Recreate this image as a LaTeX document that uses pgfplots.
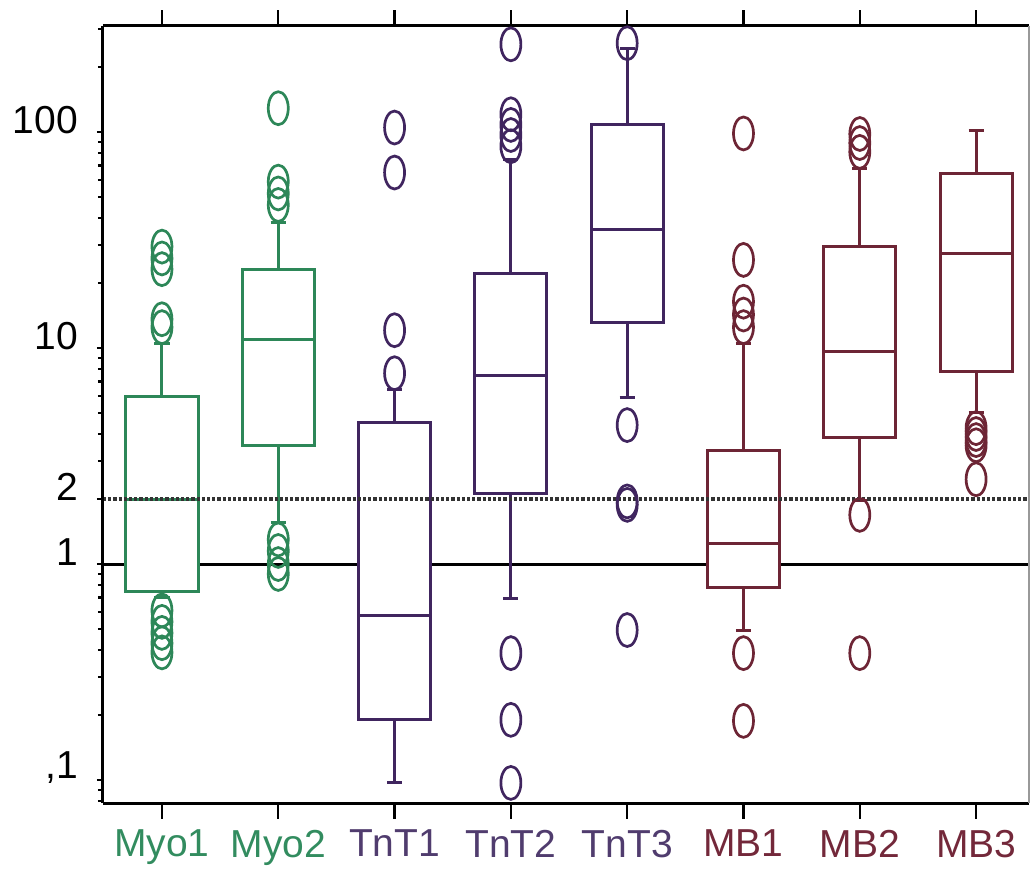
\documentclass[border=0pt]{standalone}
\usepackage{pgfplots}
\pgfplotsset{compat=1.18}
\usepackage{fontspec}
\setmainfont{Liberation Sans}
\definecolor{cg}{RGB}{45,135,88}
\definecolor{cp}{RGB}{64,37,95}
\definecolor{cq}{RGB}{109,37,53}
\definecolor{lg}{RGB}{50,140,95}
\definecolor{lp}{RGB}{80,60,110}
\definecolor{lr}{RGB}{115,40,58}
% #1 colour, #2 position, #3 lower whisker, #4 lower quartile, #5 median, #6 upper quartile, #7 upper whisker
\newcommand{\bp}[7]{%
  \pgfmathsetmacro\bxl{#2-0.31}\pgfmathsetmacro\bxr{#2+0.31}%
  \pgfmathsetmacro\bcl{#2-0.065}\pgfmathsetmacro\bcr{#2+0.065}%
  \addplot[#1, line width=1.5pt, mark=none] coordinates {(#2,#3) (#2,#4)};
  \addplot[#1, line width=1.5pt, mark=none] coordinates {(#2,#6) (#2,#7)};
  \addplot[#1, line width=1.5pt, mark=none] coordinates {(\bcl,#3) (\bcr,#3)};
  \addplot[#1, line width=1.5pt, mark=none] coordinates {(\bcl,#7) (\bcr,#7)};
  \addplot[#1, line width=1.5pt, mark=none, fill=white, line join=miter] coordinates {(\bxl,#4) (\bxr,#4) (\bxr,#6) (\bxl,#6)} -- cycle;
  \addplot[#1, line width=1.5pt, mark=none] coordinates {(\bxl,#5) (\bxr,#5)};
}
\newcommand{\outl}[2]{%
  \addplot[#1, only marks, mark=o, mark size=5pt, mark options={yscale=1.65, line width=1.35pt}] coordinates {#2};
}
\begin{document}
\begin{tikzpicture}
\begin{axis}[
  scale only axis,
  width=463pt, height=388.5pt,
  ymode=log,
  ymin=0.0783, ymax=310,
  xmin=-0.507, xmax=7.455,
  clip=false,
  axis line style={draw=none},
  xtick=\empty,
  extra x ticks={0,1,2,3,4,5,6,7},
  extra x tick labels={\textcolor{lg}{Myo1},\textcolor{lg}{Myo2},\textcolor{lp}{TnT1},\textcolor{lp}{TnT2},\textcolor{lp}{TnT3},\textcolor{lr}{MB1},\textcolor{lr}{MB2},\textcolor{lr}{MB3}},
  extra x tick style={major tick length=8pt, xtick pos=both, tick style={line width=1.2pt, black}},
  xtick pos=both,
  ytick pos=left,
  tick align=outside,
  ytick={0.1,1,2,10,100},
  yticklabels={{,1},1,2,10,100},
  minor ytick={0.08,0.09,0.2,0.3,0.4,0.5,0.6,0.7,0.8,0.9,3,4,5,6,7,8,9,20,30,40,50,60,70,80,90,200,300},
  tick style={line width=1.2pt, black},
  major tick length=3pt,
  minor tick length=2.5pt,
  ticklabel style={font=\fontsize{19.5}{22}\selectfont},
  yticklabel style={yshift=6pt, xshift=-6pt},
  xticklabel style={yshift=-2pt},
]
% reference line at 1 (behind boxes)
\addplot[black, line width=1.5pt, mark=none] coordinates {(-0.507,1) (7.455,1)};

\bp{cg}{0}{0.7}{0.75}{2.0}{6.0}{10.5}
\outl{cg}{(0,29.5) (0,26) (0,23.2) (0,13.6) (0,12.5) (0,0.61) (0,0.54) (0,0.48) (0,0.43) (0,0.39)}
\bp{cg}{1}{1.55}{3.55}{11.0}{23.2}{38}
\outl{cg}{(1,129) (1,59) (1,52) (1,46) (1,1.3) (1,1.15) (1,1.0) (1,0.9)}
\bp{cp}{2}{0.097}{0.19}{0.58}{4.54}{6.4}
\outl{cp}{(2,7.65) (2,12.1) (2,65) (2,105)}
\bp{cp}{3}{0.69}{2.13}{7.5}{22.2}{75}
\outl{cp}{(3,255) (3,121) (3,108) (3,97) (3,86) (3,0.387) (3,0.19) (3,0.097)}
\bp{cp}{4}{5.93}{13.2}{35.5}{109}{245}
\outl{cp}{(4,258) (4,4.4) (4,1.95) (4,1.88) (4,0.495)}
\bp{cq}{5}{0.495}{0.78}{1.25}{3.37}{10.5}
\outl{cq}{(5,12.5) (5,14.3) (5,16.4) (5,25.6) (5,98.6) (5,0.387) (5,0.188)}
\bp{cq}{6}{1.98}{3.87}{9.6}{29.4}{68}
\outl{cq}{(6,81) (6,89) (6,98) (6,1.69) (6,0.387)}
\bp{cq}{7}{5.05}{7.8}{27.5}{64.3}{101.6}
\outl{cq}{(7,4.26) (7,4.0) (7,3.75) (7,3.55) (7,2.47)}

% reference line at 2 (dotted, on top)
\addplot[black!80, line width=1.6pt, dash pattern=on 1.6pt off 1pt, mark=none] coordinates {(-0.507,2) (7.455,2)};

% frame
\draw[black, line width=1.5pt] (rel axis cs:0,0) -- (rel axis cs:1,0);
\draw[black, line width=1.5pt] (rel axis cs:0,1) -- (rel axis cs:1,1);
\draw[black, line width=1.5pt] (rel axis cs:0,0) -- (rel axis cs:0,1);
\draw[black!40, line width=0.6pt] (rel axis cs:1,0) -- (rel axis cs:1,1);
\end{axis}
\pgfresetboundingbox
\path[use as bounding box] ([shift={(-51.5pt,-33.5pt)}]current axis.south west) rectangle ([shift={(1pt,13pt)}]current axis.north east);
\end{tikzpicture}
\end{document}
